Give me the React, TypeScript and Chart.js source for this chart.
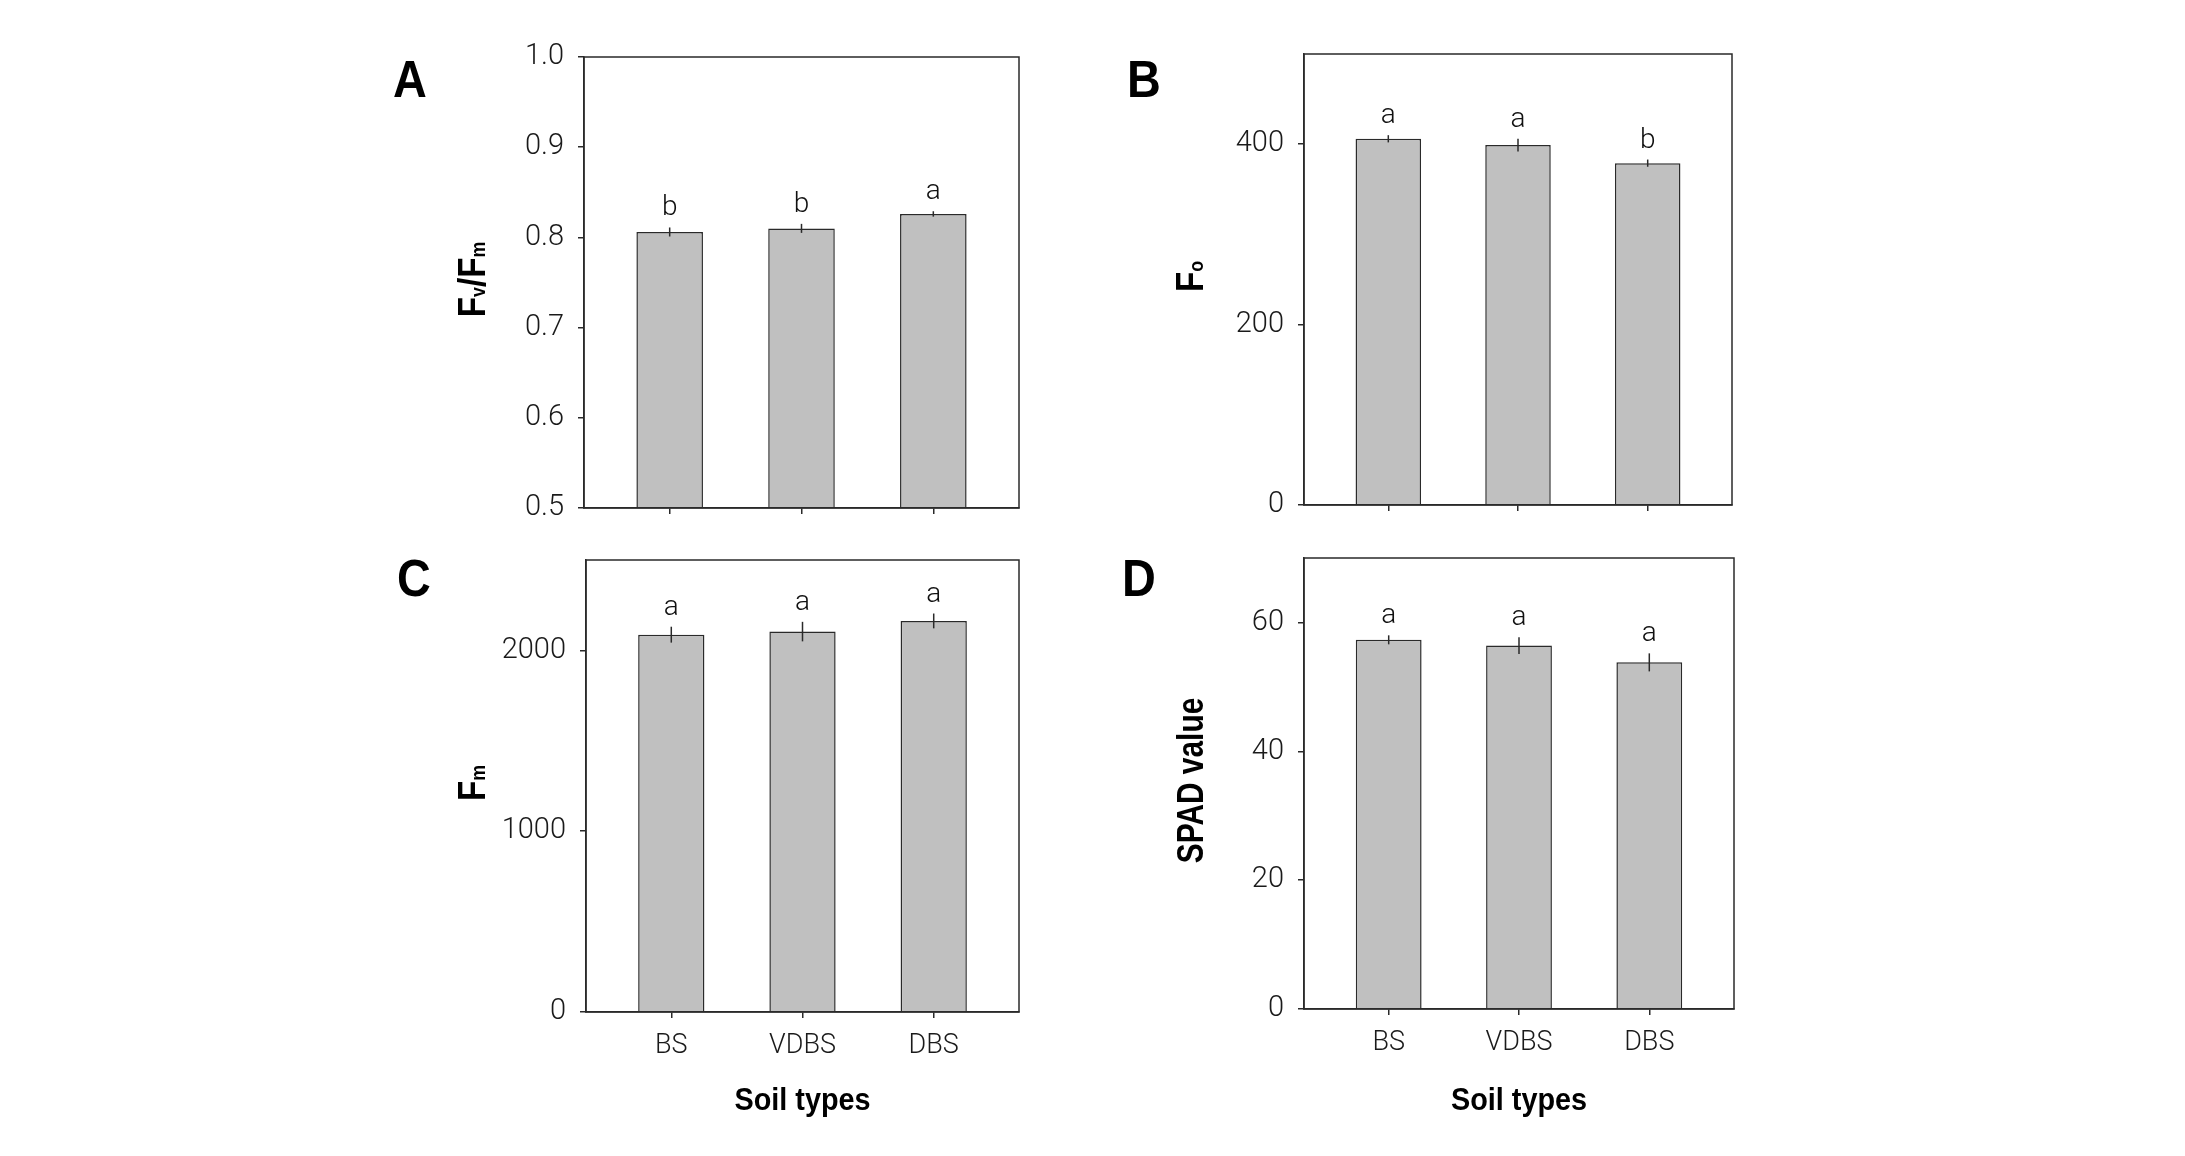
import React, { useEffect, useRef } from 'react';
import { Chart, registerables } from 'chart.js';

Chart.register(...registerables);

// ---------------- data ----------------
const categories = ['BS', 'VDBS', 'DBS'];

const fvfmValues = [0.806, 0.81, 0.826];
const fvfmErrors = [0.005, 0.005, 0.003];
const fvfmLetters = ['b', 'b', 'a'];
const fvfmTicks = [0.5, 0.6, 0.7, 0.8, 0.9, 1.0];

const foValues = [406, 399, 379];
const foErrors = [4, 7, 4];
const foLetters = ['a', 'a', 'b'];
const foTicks = [0, 200, 400];

const fmValues = [2087, 2104, 2163];
const fmErrors = [44, 54, 41];
const fmLetters = ['a', 'a', 'a'];
const fmTicks = [0, 1000, 2000];

const spadValues = [57.3, 56.4, 53.8];
const spadErrors = [0.7, 1.3, 1.4];
const spadLetters = ['a', 'a', 'a'];
const spadTicks = [0, 20, 40, 60];

const xTitle = 'Soil types';

// ---------------- layout / style ----------------
type Part = { t: string; s: number };
type Panel = {
  letter: string;
  titleParts: Part[];
  values: number[];
  errors: number[];
  letters: string[];
  ticks: number[];
  yMin: number;
  yMax: number;
  decimals: number;
  xLabels: boolean;
  canvas: { x: number; y: number; w: number; h: number };
  area: { l: number; t: number; r: number; b: number };
  letterPos: { x: number; y: number };
  titleBaseX: number;
};

const BIG = 39;
const SUB = 21;

const panels: Panel[] = [
  {
    letter: 'A',
    titleParts: [
      { t: 'F', s: BIG },
      { t: 'v', s: SUB },
      { t: '/', s: BIG },
      { t: 'F', s: BIG },
      { t: 'm', s: SUB },
    ],
    values: fvfmValues,
    errors: fvfmErrors,
    letters: fvfmLetters,
    ticks: fvfmTicks,
    yMin: 0.5,
    yMax: 1.0,
    decimals: 1,
    xLabels: false,
    canvas: { x: 370, y: 10, w: 690, h: 530 },
    area: { l: 584, t: 57, r: 1019, b: 508 },
    letterPos: { x: 393, y: 97 },
    titleBaseX: 485,
  },
  {
    letter: 'B',
    titleParts: [
      { t: 'F', s: BIG },
      { t: 'o', s: SUB },
    ],
    values: foValues,
    errors: foErrors,
    letters: foLetters,
    ticks: foTicks,
    yMin: 0,
    yMax: 500,
    decimals: 0,
    xLabels: false,
    canvas: { x: 1090, y: 10, w: 690, h: 530 },
    area: { l: 1304, t: 54, r: 1732, b: 505 },
    letterPos: { x: 1127, y: 97 },
    titleBaseX: 1203,
  },
  {
    letter: 'C',
    titleParts: [
      { t: 'F', s: BIG },
      { t: 'm', s: SUB },
    ],
    values: fmValues,
    errors: fmErrors,
    letters: fmLetters,
    ticks: fmTicks,
    yMin: 0,
    yMax: 2500,
    decimals: 0,
    xLabels: true,
    canvas: { x: 370, y: 512, w: 690, h: 628 },
    area: { l: 586, t: 560, r: 1019, b: 1012 },
    letterPos: { x: 397, y: 596 },
    titleBaseX: 485,
  },
  {
    letter: 'D',
    titleParts: [{ t: 'SPAD value', s: 36 }],
    values: spadValues,
    errors: spadErrors,
    letters: spadLetters,
    ticks: spadTicks,
    yMin: 0,
    yMax: 70,
    decimals: 0,
    xLabels: true,
    canvas: { x: 1090, y: 512, w: 690, h: 628 },
    area: { l: 1304, t: 558, r: 1734, b: 1009 },
    letterPos: { x: 1122, y: 596 },
    titleBaseX: 1203,
  },
];

const LINE = '#2a2a2a';
const BAR_FILL = '#c0c0c0';
const TICK_FONT = 'Roboto, "Liberation Sans", sans-serif';
const BOLD_FONT = '"Liberation Sans", Arial, sans-serif';

function makeDecor(p: Panel) {
  return {
    id: 'decor' + p.letter,
    afterDatasetsDraw(chart: any) {
      const ctx: CanvasRenderingContext2D = chart.ctx;
      const a = chart.chartArea;
      const yScale = chart.scales.y;
      const meta = chart.getDatasetMeta(0);
      ctx.save();
      // frame
      ctx.strokeStyle = LINE;
      ctx.lineWidth = 1.5;
      ctx.strokeRect(a.left, a.top, a.right - a.left, a.bottom - a.top);
      // error bars and significance letters
      ctx.lineWidth = 1.5;
      ctx.fillStyle = '#111';
      ctx.font = `300 28px ${TICK_FONT}`;
      ctx.textAlign = 'center';
      ctx.textBaseline = 'alphabetic';
      meta.data.forEach((bar: any, i: number) => {
        const v = p.values[i];
        const e = p.errors[i];
        const yTop = yScale.getPixelForValue(v + e);
        const yBot = yScale.getPixelForValue(v - e);
        ctx.beginPath();
        ctx.moveTo(bar.x, yTop);
        ctx.lineTo(bar.x, yBot);
        ctx.stroke();
        ctx.fillText(p.letters[i], bar.x, yTop - 12);
      });
      ctx.restore();
    },
    afterDraw(chart: any) {
      const ctx: CanvasRenderingContext2D = chart.ctx;
      const a = chart.chartArea;
      const ox = p.canvas.x;
      const oy = p.canvas.y;
      ctx.save();
      ctx.fillStyle = '#000';
      // panel letter
      ctx.save();
      ctx.font = `bold 52px ${BOLD_FONT}`;
      ctx.textAlign = 'left';
      ctx.textBaseline = 'alphabetic';
      ctx.translate(p.letterPos.x - ox, p.letterPos.y - oy);
      ctx.scale(0.9, 1);
      ctx.fillText(p.letter, 0, 0);
      ctx.restore();
      // y title (rotated, with subscripts)
      ctx.save();
      const cy = (a.top + a.bottom) / 2 - 3;
      ctx.translate(p.titleBaseX - ox, cy);
      ctx.rotate(-Math.PI / 2);
      const sx = p.titleParts.length === 1 ? 0.83 : 0.85;
      ctx.scale(sx, 1);
      ctx.textAlign = 'left';
      ctx.textBaseline = 'alphabetic';
      const widths = p.titleParts.map((part) => {
        ctx.font = `bold ${part.s}px ${BOLD_FONT}`;
        return ctx.measureText(part.t).width;
      });
      const total = widths.reduce((s, w) => s + w, 0);
      let u = -total / 2;
      p.titleParts.forEach((part, i) => {
        ctx.font = `bold ${part.s}px ${BOLD_FONT}`;
        ctx.fillText(part.t, u, 0);
        u += widths[i];
      });
      ctx.restore();
      // x title
      if (p.xLabels) {
        ctx.save();
        ctx.font = `bold 31px ${BOLD_FONT}`;
        ctx.textAlign = 'center';
        ctx.textBaseline = 'alphabetic';
        ctx.translate((a.left + a.right) / 2, 1110 - oy);
        ctx.scale(0.93, 1);
        ctx.fillText(xTitle, 0, 0);
        ctx.restore();
      }
      ctx.restore();
    },
  };
}

function PanelChart({ p }: { p: Panel }) {
  const ref = useRef<HTMLCanvasElement | null>(null);
  useEffect(() => {
    if (!ref.current) return;
    const chart = new Chart(ref.current, {
      type: 'bar',
      data: {
        datasets: [
          {
            data: categories.map((_, i) => ({ x: i, y: p.values[i] })),
            backgroundColor: BAR_FILL,
            borderColor: LINE,
            borderWidth: 1.5,
            barPercentage: 0.505,
            categoryPercentage: 1,
            base: p.yMin,
          } as any,
        ],
      },
      options: {
        responsive: false,
        maintainAspectRatio: false,
        animation: false,
        devicePixelRatio: 1,
        layout: {
          padding: {
            left: 0,
            top: p.area.t - p.canvas.y,
            right: p.canvas.x + p.canvas.w - p.area.r,
            bottom: 0,
          },
        },
        plugins: {
          legend: { display: false },
          tooltip: { enabled: false },
          title: { display: false },
        },
        scales: {
          x: {
            type: 'linear',
            min: -0.65,
            max: 2.65,
            offset: false,
            afterBuildTicks: (s: any) => {
              s.ticks = categories.map((_, i) => ({ value: i }));
            },
            afterFit: (s: any) => {
              s.height = p.canvas.y + p.canvas.h - p.area.b;
            },
            grid: {
              display: true,
              drawOnChartArea: false,
              drawTicks: true,
              tickLength: 6,
              color: LINE,
              lineWidth: 1.5,
              offset: false,
            },
            border: { display: true, color: LINE, width: 1.5 },
            ticks: {
              callback: (v: any) => (p.xLabels ? categories[v] ?? '' : ''),
              font: { family: TICK_FONT, size: 27, weight: '300' as any },
              color: '#1a1a1a',
              padding: 12,
              maxRotation: 0,
              autoSkip: false,
            },
          },
          y: {
            type: 'linear',
            min: p.yMin,
            max: p.yMax,
            beginAtZero: false,
            afterBuildTicks: (s: any) => {
              s.ticks = p.ticks.map((v) => ({ value: v }));
            },
            afterFit: (s: any) => {
              s.width = p.area.l - p.canvas.x;
            },
            grid: {
              display: true,
              drawOnChartArea: false,
              drawTicks: true,
              tickLength: 6,
              color: LINE,
              lineWidth: 1.5,
            },
            border: { display: true, color: LINE, width: 1.5 },
            ticks: {
              callback: (v: any) => Number(v).toFixed(p.decimals),
              font: { family: TICK_FONT, size: 29, weight: '300' as any },
              color: '#1a1a1a',
              padding: 14,
              autoSkip: false,
            },
          },
        },
      } as any,
      plugins: [makeDecor(p)],
    });
    let alive = true;
    if ((document as any).fonts && (document as any).fonts.ready) {
      (document as any).fonts.ready.then(() => {
        if (alive) chart.update();
      });
    }
    return () => {
      alive = false;
      chart.destroy();
    };
  }, [p]);
  return (
    <canvas
      ref={ref}
      width={p.canvas.w}
      height={p.canvas.h}
      style={{
        position: 'absolute',
        left: p.canvas.x,
        top: p.canvas.y,
        width: p.canvas.w,
        height: p.canvas.h,
      }}
    />
  );
}

export default function App() {
  return (
    <div
      style={{
        position: 'fixed',
        left: 0,
        top: 0,
        width: 2185,
        height: 1156,
        background: '#ffffff',
        overflow: 'hidden',
      }}
    >
      {panels.map((p) => (
        <PanelChart key={p.letter} p={p} />
      ))}
    </div>
  );
}
